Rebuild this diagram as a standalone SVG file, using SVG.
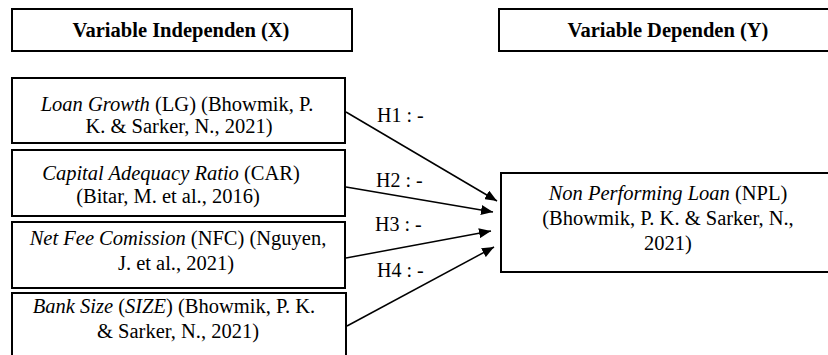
<svg xmlns="http://www.w3.org/2000/svg" width="828" height="355" viewBox="0 0 828 355">
<defs>
<marker id="ah" viewBox="0 0 12 10" refX="12" refY="5" markerWidth="12" markerHeight="10" markerUnits="userSpaceOnUse" orient="auto">
<path d="M0,0 L12,5 L0,10 Z" fill="#000"/>
</marker>
</defs>
<rect width="828" height="355" fill="#fff"/>
<g fill="#000" font-family="'Liberation Serif', serif">
<g id="header-x" font-size="20.5" font-weight="bold" text-anchor="middle">
<rect x="12" y="9" width="340" height="42" fill="#fff" stroke="#000" stroke-width="2"/>
<text x="181" y="37" style="font-family:'Liberation Serif',serif">Variable Independen (X)</text>
</g>
<g id="header-y" font-size="20.5" font-weight="bold" text-anchor="middle">
<rect x="499" y="9" width="340" height="42" fill="#fff" stroke="#000" stroke-width="2"/>
<text x="668" y="37" style="font-family:'Liberation Serif',serif">Variable Dependen (Y)</text>
</g>
<g id="lg" font-size="20.5" text-anchor="middle">
<rect x="12" y="78" width="333" height="65" fill="#fff" stroke="#000" stroke-width="2"/>
<text x="177" y="111" style="font-family:'Liberation Serif',serif"><tspan font-style="italic">Loan Growth</tspan> (LG) (Bhowmik, P.</text>
<text x="179" y="133" style="font-family:'Liberation Serif',serif">K. &amp; Sarker, N., 2021)</text>
</g>
<g id="car" font-size="20.5" text-anchor="middle">
<rect x="12" y="150" width="333" height="66" fill="#fff" stroke="#000" stroke-width="2"/>
<text x="171" y="180" style="font-family:'Liberation Serif',serif"><tspan font-style="italic">Capital Adequacy Ratio</tspan> (CAR)</text>
<text x="168" y="203" style="font-family:'Liberation Serif',serif">(Bitar, M. et al., 2016)</text>
</g>
<g id="nfc" font-size="20.5" text-anchor="middle">
<rect x="12" y="222" width="333" height="66" fill="#fff" stroke="#000" stroke-width="2"/>
<text x="178" y="245" style="font-family:'Liberation Serif',serif"><tspan font-style="italic">Net Fee Comission</tspan> (NFC) (Nguyen,</text>
<text x="176" y="270" style="font-family:'Liberation Serif',serif">J. et al., 2021)</text>
</g>
<g id="size" font-size="20.5" text-anchor="middle">
<rect x="12" y="293" width="334" height="80" fill="#fff" stroke="#000" stroke-width="2"/>
<text x="174" y="313" style="font-family:'Liberation Serif',serif"><tspan font-style="italic">Bank Size</tspan> (<tspan font-style="italic">SIZE</tspan>) (Bhowmik, P. K.</text>
<text x="178" y="338" style="font-family:'Liberation Serif',serif">&amp; Sarker, N., 2021)</text>
</g>
<g id="npl" font-size="20.5" text-anchor="middle">
<rect x="501" y="173" width="340" height="99" fill="#fff" stroke="#000" stroke-width="2"/>
<text x="668" y="200" style="font-family:'Liberation Serif',serif"><tspan font-style="italic">Non Performing Loan</tspan> (NPL)</text>
<text x="668" y="225" style="font-family:'Liberation Serif',serif">(Bhowmik, P. K. &amp; Sarker, N.,</text>
<text x="668" y="250" style="font-family:'Liberation Serif',serif">2021)</text>
</g>
<g id="connectors" font-size="20" stroke-width="1.5">
<line x1="346" y1="112" x2="497" y2="201" stroke="#000" marker-end="url(#ah)"/>
<line x1="346" y1="187" x2="493" y2="212" stroke="#000" marker-end="url(#ah)"/>
<line x1="346" y1="258" x2="491" y2="231" stroke="#000" marker-end="url(#ah)"/>
<line x1="347" y1="326" x2="494" y2="247" stroke="#000" marker-end="url(#ah)"/>
<text x="377" y="122" stroke="none" style="font-family:'Liberation Serif',serif">H1 : -</text>
<text x="376" y="187" stroke="none" style="font-family:'Liberation Serif',serif">H2 : -</text>
<text x="375" y="231" stroke="none" style="font-family:'Liberation Serif',serif">H3 : -</text>
<text x="377" y="277" stroke="none" style="font-family:'Liberation Serif',serif">H4 : -</text>
</g>
</g>
</svg>
